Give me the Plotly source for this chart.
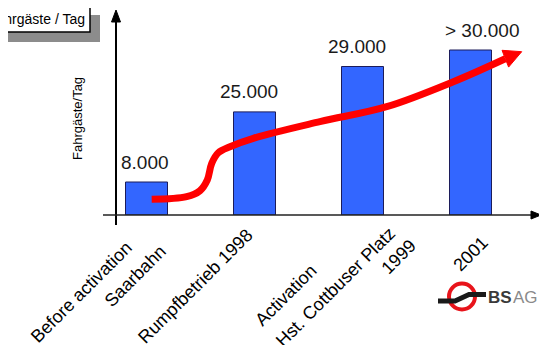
import plotly.graph_objects as go

# ---- data ----
categories = [
    "Before activation\nSaarbahn",
    "Rumpfbetrieb 1998",
    "Activation\nHst. Cottbuser Platz\n1999",
    "2001",
]
bar_heights = [8000, 25000, 36000, 40000]   # drawn heights (schematic)
value_labels = ["8.000", "25.000", "29.000", "> 30.000"]

# red trend arrow (decoration), in data units (category index, value)
trend_x = [0.048, 0.372, 0.495, 0.563, 0.604, 0.665, 0.773, 0.989, 1.606, 2.224, 2.841, 3.322]
trend_y = [3806, 4436, 5891, 8485, 12533, 15103, 16558, 18594, 22618, 26255, 32315, 37891]
head_x = [3.474, 3.353, 3.292, 3.474]
head_y = [39588, 35855, 39927, 39588]

FONT = "Liberation Sans, Arial, sans-serif"
OFF = 8                 # page body margin shifts the figure by this many pixels
W, H = 547, 345
# plot area in window pixels
WL, WR, WT, WB = 116, 540, 15, 215
L, R, T, B = WL - OFF, WR - OFF, WT - OFF, WB - OFF
SLOT = 108              # pixels per category
C0 = 146.5              # window x of first category centre


def PX(x):  # window pixel -> paper
    return (x - WL) / (WR - WL)


def PY(y):
    return (WB - y) / (WB - WT)


# layout of the rotated category labels: end point of each line, relative to tick (px)
label_line_ends = [
    [(-17.5, 29), (16.5, 33)],
    [(-4.5, 17)],
    [(-48.5, 52.5), (30, 15.7), (50.5, 28)],
    [(14.5, 25)],
]
value_dx = [-1.5, -5.5, -5.5, 11.5]

fig = go.Figure()
fig.add_trace(go.Bar(
    x=list(range(len(categories))), y=bar_heights,
    marker=dict(color="#3366ff", line=dict(color="#1c1c5a", width=1)),
    hoverinfo="skip", showlegend=False,
))
fig.add_trace(go.Scatter(
    x=trend_x, y=trend_y, mode="lines",
    line=dict(color="#ff0000", width=7, shape="spline", smoothing=1),
    hoverinfo="skip", showlegend=False,
))
fig.add_trace(go.Scatter(
    x=head_x, y=head_y, mode="lines", fill="toself", fillcolor="#ff0000",
    line=dict(color="#ff0000", width=1), hoverinfo="skip", showlegend=False,
))

annotations = []
for i, (h, lab) in enumerate(zip(bar_heights, value_labels)):
    annotations.append(dict(
        x=i, y=h, xref="x", yref="y", text=lab, showarrow=False,
        xanchor="center", yanchor="middle", yshift=20, xshift=value_dx[i],
        font=dict(family=FONT, size=19, color="#1a1a1a"),
    ))

# rotated category labels, one annotation per line
LBL = 18
hbox = LBL * 1.3 + 4
k = hbox / (2 * 2 ** 0.5)
for i, cat in enumerate(categories):
    for line, (dx, dy) in zip(cat.split("\n"), label_line_ends[i]):
        annotations.append(dict(
            x=i, y=0, xref="x", yref="y", text=line, showarrow=False,
            textangle=-45, xanchor="right", yanchor="top",
            xshift=dx + k, yshift=-(dy - k),
            font=dict(family=FONT, size=LBL, color="#000"),
        ))

# y axis title
annotations.append(dict(
    x=PX(77), y=PY(119), xref="paper", yref="paper", text="Fahrgäste/Tag",
    textangle=-90, showarrow=False, xanchor="center", yanchor="middle",
    font=dict(family=FONT, size=13, color="#000"),
))
# boxed label top-left
annotations.append(dict(
    x=PX(87), y=PY(19), xref="paper", yref="paper", text="Fahrgäste / Tag",
    xanchor="right", yanchor="middle", showarrow=False,
    font=dict(family=FONT, size=14, color="#000"),
))
# logo text
annotations.append(dict(
    x=PX(488), y=PY(297), xref="paper", yref="paper", text="<b>BS</b>",
    xanchor="left", yanchor="middle", showarrow=False, borderpad=0, borderwidth=0,
    font=dict(family=FONT, size=17, color="#3a3a3a"),
))
annotations.append(dict(
    x=PX(513), y=PY(297), xref="paper", yref="paper", text="AG",
    xanchor="left", yanchor="middle", showarrow=False, borderpad=0, borderwidth=0,
    font=dict(family=FONT, size=17, color="#8a8a8a"),
))

shapes = [
    # shadow + box
    dict(type="rect", xref="paper", yref="paper", x0=PX(-5), x1=PX(100), y0=PY(15), y1=PY(42),
         fillcolor="#8c8c8c", line=dict(width=0), layer="above"),
    dict(type="rect", xref="paper", yref="paper", x0=PX(-12), x1=PX(90), y0=PY(5), y1=PY(32),
         fillcolor="white", line=dict(color="black", width=1.5), layer="above"),
    # axes
    dict(type="line", xref="paper", yref="paper", x0=PX(116), x1=PX(116), y0=PY(225), y1=PY(20),
         line=dict(color="black", width=2), layer="above"),
    dict(type="path", xref="paper", yref="paper",
         path=f"M {PX(116)},{PY(10)} L {PX(111.5)},{PY(22)} L {PX(120.5)},{PY(22)} Z",
         fillcolor="black", line=dict(color="black", width=1), layer="above"),
    dict(type="line", xref="paper", yref="paper", x0=PX(103), x1=PX(533), y0=PY(215), y1=PY(215),
         line=dict(color="#222", width=1.5), layer="above"),
    dict(type="path", xref="paper", yref="paper",
         path=f"M {PX(541)},{PY(215)} L {PX(531)},{PY(211)} L {PX(531)},{PY(219)} Z",
         fillcolor="black", line=dict(color="black", width=1), layer="above"),
    # logo
    dict(type="circle", xref="paper", yref="paper", x0=PX(449), x1=PX(475), y0=PY(283.5), y1=PY(309.5),
         line=dict(color="#e8141b", width=4), layer="above"),
    dict(type="path", xref="paper", yref="paper",
         path=f"M {PX(438)},{PY(301)} L {PX(455)},{PY(301)} L {PX(469)},{PY(294.5)} L {PX(486)},{PY(294.5)}",
         line=dict(color="#1a1a1a", width=5), layer="above"),
]

xr = [-(C0 - WL) / SLOT, (WR - C0) / SLOT]
fig.update_layout(
    width=W, height=H,
    margin=dict(l=L, r=W - R, t=T, b=H - B, autoexpand=False),
    paper_bgcolor="white", plot_bgcolor="white",
    bargap=1 - 42 / SLOT,
    annotations=annotations, shapes=shapes,
    xaxis=dict(range=xr, visible=False, automargin=False),
    yaxis=dict(range=[0, (WB - WT) / 0.004125], visible=False, automargin=False),
)

fig.write_html("out.html")
